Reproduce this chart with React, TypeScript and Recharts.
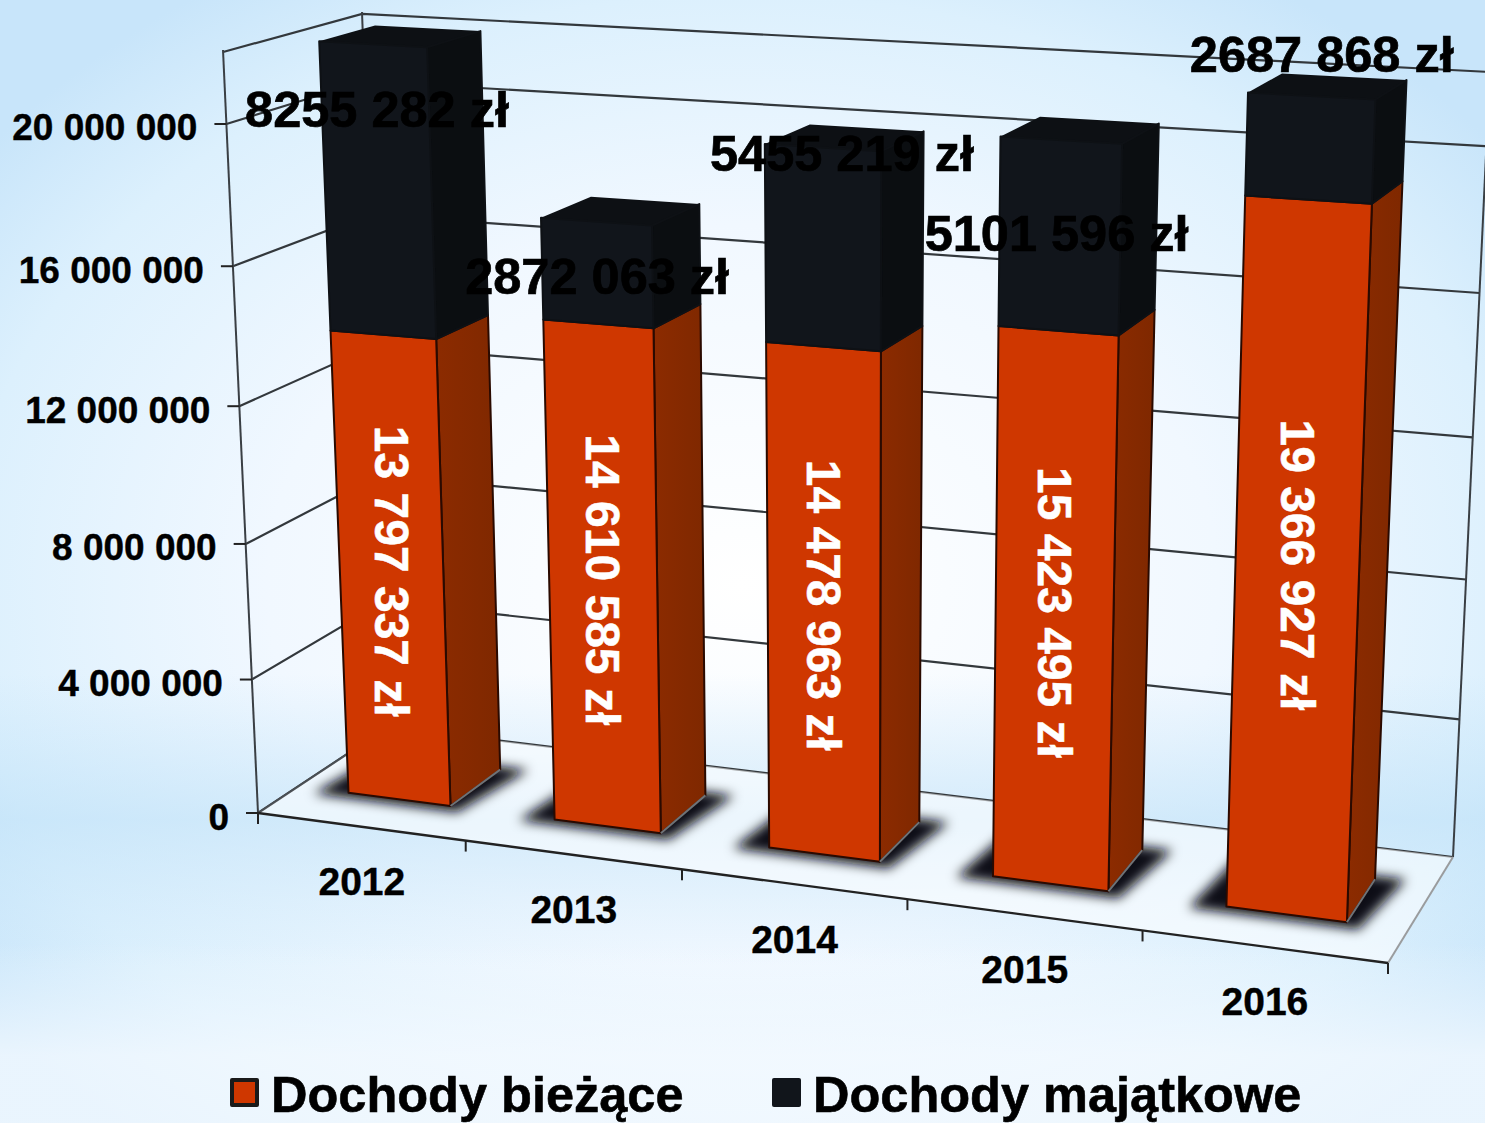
/**
 * Dochody budzetu 2012-2016: stacked bars drawn in a hand-rolled 3D perspective.
 * Recharts gives the scales; project() bends plot coordinates into the wall/floor box.
 */
import { Bar, CartesianGrid, ComposedChart, LabelList, Legend, XAxis, YAxis } from "recharts";

// ============================================
// Data
// ============================================

const YEARS = ["2012", "2013", "2014", "2015", "2016"];
const BIEZACE = [13797337, 14610585, 14478963, 15423495, 19366927];
const MAJATKOWE = [8255282, 2872063, 5455219, 5101596, 2687868];
const Y_TICKS = [0, 4000000, 8000000, 12000000, 16000000, 20000000];
const GRID_VALUES = [0, 4000000, 8000000, 12000000, 16000000, 20000000, 22000000];

const tableData = YEARS.map((year, i) => ({
  year,
  biezace: BIEZACE[i],
  majatkowe: MAJATKOWE[i],
}));

// ============================================
// Layout + projection
// ============================================

const W = 1485;
const H = 1123;
const FONT = "'Liberation Sans', Arial, sans-serif";

// plot rectangle handed to recharts
const PL = 100;
const PT = 100;
const PW = 1300;
const PH = 900;

type Pt = [number, number];

// corners of the 3D box: F/B = front/back, L/R = left/right, 0/1 = floor/top
const FL0: Pt = [258, 813];
const FR0: Pt = [1388, 963];
const BL0: Pt = [388, 727];
const BR0: Pt = [1453, 857];
const FL1: Pt = [223, 50];
const FR1: Pt = [1418, 118];
const BL1: Pt = [362, 12];
const BR1: Pt = [1490, 70];

// bars sit between these depths
const D0 = 0.31;
const D1 = 0.72;

// black value labels are not centred in the original, shift per year
const LABEL_SHIFT: Pt[] = [
  [-1, -81],
  [0, 4],
  [19, -94],
  [-3, -2],
  [12, -93],
];

const warp = (t: number, w: number) => t / (t + w * (1 - t));
const mix = (a: Pt, b: Pt, t: number): Pt => [a[0] + (b[0] - a[0]) * t, a[1] + (b[1] - a[1]) * t];

function project(u: number, v: number, d: number): Pt {
  const U = warp(u, 1.11);
  const V = warp(v, 1.045);
  const floor = mix(mix(FL0, FR0, U), mix(BL0, BR0, U), d);
  const top = mix(mix(FL1, FR1, U), mix(BL1, BR1, U), d);
  return mix(floor, top, V);
}

const toU = (x: number) => (x - PL) / PW;
const toV = (y: number) => (PT + PH - y) / PH;
const pts = (list: Pt[]) => list.map((p) => `${p[0].toFixed(1)},${p[1].toFixed(1)}`).join(" ");

// ============================================
// Formatters
// ============================================

function groupDigits(value: number): string {
  return String(value).replace(/\B(?=(\d{3})+(?!\d))/g, " ");
}

const formatBiezace = (value: number) => `${groupDigits(value)} zł`;
// the source drops the first separator on these
const formatMajatkowe = (value: number) => `${groupDigits(value).replace(" ", "")} zł`;

// ============================================
// Walls, axes
// ============================================

function WallFrame() {
  const edge = (a: Pt, b: Pt, stroke: string, width = 2) => (
    <line x1={a[0]} y1={a[1]} x2={b[0]} y2={b[1]} stroke={stroke} strokeWidth={width} />
  );
  return (
    <g>
      <polygon points={pts([FL0, FR0, BR0, BL0])} fill="rgba(255,255,255,0.55)" />
      {edge(FL0, FL1, "#3a3f44")}
      {edge(BL0, BL1, "#3a3f44")}
      {edge(BR0, BR1, "#3a3f44")}
      {edge(FL0, BL0, "#4a4f54")}
      {edge(FR0, BR0, "#9a9c9e")}
      {edge(FL0, FR0, "#222", 2.4)}
    </g>
  );
}

function GridLine(props: any) {
  const v = toV(props.y1);
  const a = project(0, v, 0);
  const b = project(0, v, 1);
  const c = project(1, v, 1);
  return <polyline key={props.key} points={pts([a, b, c])} fill="none" stroke="#33383c" strokeWidth={2.2} />;
}

function YTick({ y, payload }: any) {
  const p = project(0, toV(y), 0);
  return (
    <g>
      <line x1={p[0] - 12} y1={p[1]} x2={p[0]} y2={p[1]} stroke="#222" strokeWidth={2} />
      <text
        x={p[0] - 29}
        y={p[1] + 4}
        textAnchor="end"
        dominantBaseline="central"
        fontFamily={FONT}
        fontWeight={700}
        fontSize={37}
        fill="#000"
        stroke="#000"
        strokeWidth={0.4}
      >
        {groupDigits(payload.value)}
      </text>
    </g>
  );
}

function XTick({ x, payload, index }: any) {
  const band = PW / YEARS.length;
  const mid = project(toU(x), 0, 0);
  const right = project(toU(x + band / 2), 0, 0);
  const left = project(toU(x - band / 2), 0, 0);
  return (
    <g>
      {index === 0 && <line x1={left[0]} y1={left[1]} x2={left[0]} y2={left[1] + 11} stroke="#222" strokeWidth={2} />}
      <line x1={right[0]} y1={right[1]} x2={right[0]} y2={right[1] + 11} stroke="#222" strokeWidth={2} />
      <text
        x={mid[0] + 1}
        y={mid[1] + 55}
        textAnchor="middle"
        dominantBaseline="central"
        fontFamily={FONT}
        fontWeight={700}
        fontSize={39}
        fill="#000"
        stroke="#000"
        strokeWidth={0.4}
      >
        {payload.value}
      </text>
    </g>
  );
}

// ============================================
// Bars
// ============================================

function Box({ x, y, width, height, front, side, top, line, base }: any) {
  const u0 = toU(x);
  const u1 = toU(x + width);
  const v0 = toV(y + height);
  const v1 = toV(y);
  const q = (u: number, v: number, d: number) => project(u, v, d);
  return (
    <g>
      {base && (
        <polygon
          points={pts([q(u0 - 0.028, 0, D0 - 0.05), q(u1 + 0.012, 0, D0 - 0.05), q(u1 + 0.024, 0, D1 + 0.03), q(u0 - 0.02, 0, D1 + 0.03)])}
          fill="#0a0d12"
          filter="url(#floorShadow)"
        />
      )}
      <polygon points={pts([q(u0, v1, D0), q(u1, v1, D0), q(u1, v1, D1), q(u0, v1, D1)])} fill={top} />
      <polygon
        points={pts([q(u1, v0, D0), q(u1, v0, D1), q(u1, v1, D1), q(u1, v1, D0)])}
        fill={side}
        stroke={line}
        strokeWidth={2}
        strokeLinejoin="round"
      />
      <polygon
        points={pts([q(u0, v0, D0), q(u1, v0, D0), q(u1, v1, D0), q(u0, v1, D0)])}
        fill={front}
        stroke={line}
        strokeWidth={2}
        strokeLinejoin="round"
      />
      {base && (
        <line
          x1={q(u1, 0, D0)[0]}
          y1={q(u1, 0, D0)[1]}
          x2={q(u1, 0, D1)[0]}
          y2={q(u1, 0, D1)[1]}
          stroke="#6d7378"
          strokeWidth={2}
        />
      )}
    </g>
  );
}

const BiezaceShape = (props: any) => (
  <Box {...props} front="#cf3700" side="url(#sideOrange)" top="#7a2600" line="#2a0a00" base />
);
const MajatkoweShape = (props: any) => (
  <Box {...props} front="#11151b" side="#0b0e11" top="#0d1014" line="#0e1115" />
);

function faceCenter({ x, y, width, height }: any): Pt {
  return project(toU(x + width / 2), toV(y + height / 2), D0);
}

function BiezaceLabel(props: any) {
  const c = faceCenter(props);
  return (
    <text
      x={c[0]}
      y={c[1] + 1}
      transform={`rotate(90 ${c[0]} ${c[1] + 1})`}
      textAnchor="middle"
      dominantBaseline="central"
      fontFamily={FONT}
      fontWeight={700}
      fontSize={48}
      fill="#fff"
      stroke="#fff"
      strokeWidth={0.5}
    >
      {formatBiezace(props.value)}
    </text>
  );
}

function MajatkoweLabel(props: any) {
  const c = faceCenter(props);
  const shift = LABEL_SHIFT[props.index];
  return (
    <text
      x={c[0] + shift[0]}
      y={c[1] + shift[1]}
      textAnchor="middle"
      dominantBaseline="central"
      fontFamily={FONT}
      fontWeight={700}
      fontSize={50.5}
      fill="#000"
      stroke="#000"
      strokeWidth={0.7}
    >
      {formatMajatkowe(props.value)}
    </text>
  );
}

// ============================================
// Legend
// ============================================

function LegendRow({ payload }: any) {
  const lefts = [230, 772];
  return (
    <div style={{ position: "relative", width: W, height: 63 }}>
      {(payload || []).map((item: any, i: number) => (
        <div key={item.value} style={{ position: "absolute", left: lefts[i], top: 0, height: 63 }}>
          <span
            style={{
              position: "absolute",
              left: 0,
              top: 18,
              width: 29,
              height: 29,
              boxSizing: "border-box",
              background: item.color,
              border: i === 0 ? "4px solid #1a1a1a" : "none",
              borderRadius: 2,
            }}
          />
          <span
            style={{
              position: "absolute",
              left: 41,
              top: 3,
              whiteSpace: "nowrap",
              fontFamily: FONT,
              fontWeight: 700,
              fontSize: 50.5,
              lineHeight: "63px",
              color: "#000",
              WebkitTextStroke: "0.6px #000",
            }}
          >
            {item.value}
          </span>
        </div>
      ))}
    </div>
  );
}

// ============================================
// Component
// ============================================

export default function App() {
  return (
    <div
      style={{
        position: "absolute",
        left: 0,
        top: 0,
        width: W,
        height: H,
        overflow: "hidden",
        background: [
          "linear-gradient(180deg, rgba(255,255,255,0) 84%, rgba(245,250,255,0.75) 94%)",
          "linear-gradient(180deg, rgba(190,225,248,0) 60%, rgba(190,225,248,0.6) 73%, rgba(255,255,255,0) 86%)",
          "radial-gradient(ellipse 64% 64% at 50% 52%, #ffffff 0%, #f1f8ff 50%, #dcf0fd 82%, #c8e5fa 100%)",
        ].join(", "),
      }}
    >
      <ComposedChart
        width={W}
        height={H}
        data={tableData}
        margin={{ top: PT, left: PL - 1, right: W - PL - PW, bottom: H - PT - PH - 1 }}
        barCategoryGap="25%"
      >
        <defs>
          <filter id="floorShadow" x="-30%" y="-60%" width="160%" height="220%">
            <feGaussianBlur stdDeviation="6" />
          </filter>
          <linearGradient id="sideOrange" x1="0" y1="0" x2="1" y2="0">
            <stop offset="0%" stopColor="#8c2b00" />
            <stop offset="100%" stopColor="#7f2800" />
          </linearGradient>
        </defs>
        <WallFrame />
        <CartesianGrid vertical={false} horizontalValues={GRID_VALUES} horizontal={GridLine} />
        <XAxis dataKey="year" height={1} axisLine={false} tickLine={false} tick={<XTick />} interval={0} />
        <YAxis
          width={1}
          domain={[0, 22000000]}
          ticks={Y_TICKS}
          axisLine={false}
          tickLine={false}
          tick={<YTick />}
          interval={0}
        />
        <Legend
          layout="horizontal"
          verticalAlign="middle"
          align="center"
          wrapperStyle={{ left: 0, top: 1060, width: W, height: 63 }}
          content={<LegendRow />}
        />
        <Bar
          dataKey="biezace"
          name="Dochody bieżące"
          stackId="a"
          fill="#cf3700"
          shape={BiezaceShape}
          isAnimationActive={false}
        >
          <LabelList dataKey="biezace" content={<BiezaceLabel />} />
        </Bar>
        <Bar
          dataKey="majatkowe"
          name="Dochody majątkowe"
          stackId="a"
          fill="#11151b"
          shape={MajatkoweShape}
          isAnimationActive={false}
        >
          <LabelList dataKey="majatkowe" content={<MajatkoweLabel />} />
        </Bar>
      </ComposedChart>
    </div>
  );
}
